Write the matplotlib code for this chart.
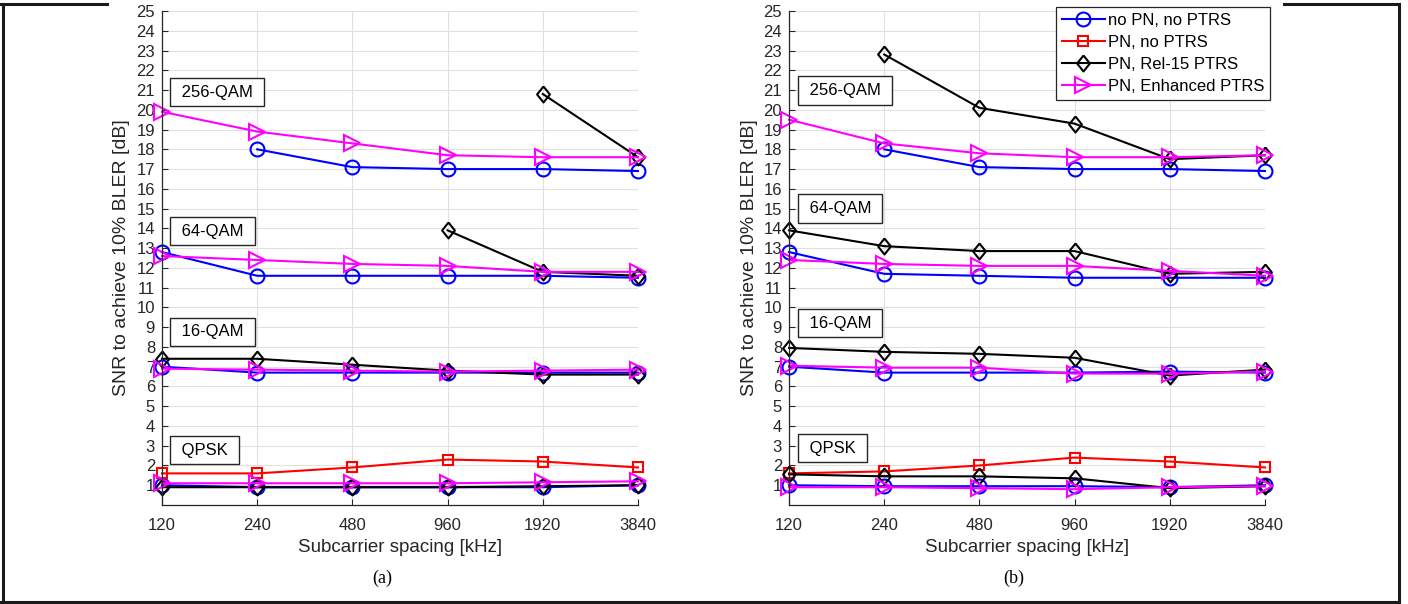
import numpy as np
import matplotlib.pyplot as plt
from matplotlib.lines import Line2D
from matplotlib.transforms import blended_transform_factory

plt.rcParams['font.family'] = ['Liberation Sans', 'DejaVu Sans']

nan = np.nan
scs = [120, 240, 480, 960, 1920, 3840]
mods = ['QPSK', '16-QAM', '64-QAM', '256-QAM']

# (a) one row per modulation: QPSK, 16-QAM, 64-QAM, 256-QAM
a_no_pn = [[1.0, 0.9, 0.9, 0.9, 0.9, 1.0],
           [7.0, 6.7, 6.7, 6.7, 6.7, 6.7],
           [12.8, 11.6, 11.6, 11.6, 11.6, 11.5],
           [nan, 18.0, 17.1, 17.0, 17.0, 16.9]]
a_pn_no_ptrs = [[1.6, 1.6, 1.9, 2.3, 2.2, 1.9], None, None, None]
a_rel15 = [[0.9, 0.9, 0.9, 0.9, 0.95, 1.0],
           [7.4, 7.4, 7.1, 6.8, 6.6, 6.6],
           [nan, nan, nan, 13.9, 11.8, 11.6],
           [nan, nan, nan, nan, 20.8, 17.6]]
a_enh = [[1.1, 1.1, 1.1, 1.1, 1.15, 1.2],
         [6.9, 6.85, 6.8, 6.75, 6.8, 6.85],
         [12.6, 12.4, 12.2, 12.1, 11.8, 11.8],
         [19.9, 18.9, 18.3, 17.7, 17.6, 17.6]]

# (b)
b_no_pn = [[1.0, 0.95, 0.95, 0.95, 0.9, 1.0],
           [7.0, 6.7, 6.7, 6.7, 6.75, 6.7],
           [12.8, 11.7, 11.6, 11.5, 11.5, 11.5],
           [nan, 18.0, 17.1, 17.0, 17.0, 16.9]]
b_pn_no_ptrs = [[1.6, 1.7, 2.0, 2.4, 2.2, 1.9], None, None, None]
b_rel15 = [[1.55, 1.45, 1.45, 1.35, 0.85, 0.95],
           [7.95, 7.75, 7.65, 7.45, 6.55, 6.85],
           [13.9, 13.1, 12.85, 12.85, 11.7, 11.8],
           [nan, 22.8, 20.1, 19.3, 17.5, 17.7]]
b_enh = [[0.9, 0.9, 0.85, 0.8, 0.9, 0.95],
         [7.05, 6.95, 6.95, 6.65, 6.65, 6.75],
         [12.4, 12.2, 12.1, 12.1, 11.85, 11.6],
         [19.5, 18.3, 17.8, 17.6, 17.6, 17.7]]

a_box_y = [2.78, 8.77, 13.85, 20.9]
b_box_y = [2.87, 9.2, 15.0, 20.98]

diamond = [(0, 1), (0.8, 0), (0, -1), (-0.8, 0), (0, 1)]
styles = [('no PN, no PTRS', 'blue', 'o', 10),
          ('PN, no PTRS', 'red', 's', 7.5),
          ('PN, Rel-15 PTRS', 'black', diamond, 11.5),
          ('PN, Enhanced PTRS', 'magenta', '>', 11)]

ink = '0.15'


def draw(ax, series, box_y, box_x):
    for (label, color, marker, ms), rows in zip(styles, series):
        first = True
        for row in rows:
            if row is None:
                continue
            ax.plot(scs, row, color=color, marker=marker, ms=ms, mfc='none',
                    mec=color, mew=1.5, lw=1.5, clip_on=False,
                    label=label if first else None)
            first = False
    ax.set_xscale('log', base=2)
    ax.set_xlim(120, 3840)
    ax.set_ylim(0, 25)
    ax.set_xticks(scs)
    ax.set_xticklabels([str(s) for s in scs])
    ax.minorticks_off()
    ax.set_yticks(range(1, 26))
    ax.grid(True, color='0.88', lw=0.8)
    ax.set_axisbelow(True)
    for s in ['top', 'right']:
        ax.spines[s].set_visible(False)
    for s in ['left', 'bottom']:
        ax.spines[s].set_color(ink)
        ax.spines[s].set_linewidth(0.9)
    ax.tick_params(direction='in', length=4, width=0.8, color=ink,
                   labelsize=12, labelcolor=ink)
    ax.tick_params(axis='x', pad=9)
    ax.tick_params(axis='y', pad=5)
    tr = blended_transform_factory(ax.transAxes, ax.transData)
    for m, y in zip(mods, box_y):
        ax.text(box_x, y, ' ' + m + ' ', transform=tr, fontsize=12, ha='left',
                va='center', color='black',
                bbox=dict(boxstyle='square,pad=0.4', fc='white', ec=ink, lw=1))


fig = plt.figure(figsize=(14.08, 6.04), dpi=100)
W, H = 1408, 604
axa = fig.add_axes([162 / W, 1 - 505 / H, 476 / W, 494 / H])
axb = fig.add_axes([789 / W, 1 - 505 / H, 476 / W, 494 / H])

draw(axa, [a_no_pn, a_pn_no_ptrs, a_rel15, a_enh], a_box_y, 0.031)
draw(axb, [b_no_pn, b_pn_no_ptrs, b_rel15, b_enh], b_box_y, 0.033)

leg = axb.legend(loc='upper right', bbox_to_anchor=(1.01, 1.008), fontsize=12,
                 numpoints=1, handlelength=2.6, handletextpad=0.15,
                 labelspacing=0.42, borderpad=0.35, borderaxespad=0,
                 fancybox=False, framealpha=1, edgecolor=ink)
leg.get_frame().set_linewidth(0.9)

for cx, tag in [(400, '(a)'), (1027, '(b)')]:
    fig.text(cx / W, 1 - 548 / H, 'Subcarrier spacing [kHz]', fontsize=13.5,
             ha='center', va='center', color=ink)
    fig.text((cx - 18 if tag == '(a)' else cx - 13) / W, 1 - 578 / H, tag,
             fontsize=13, family='Liberation Serif', ha='center', va='center')
for lx in [122, 749]:
    fig.text(lx / W, 1 - 258 / H, 'SNR to achieve 10% BLER [dB]', fontsize=14,
             rotation=90, ha='center', va='center', color=ink)

# surrounding frame
frame = dict(transform=fig.transFigure, color='0.1', lw=2.2)
fig.add_artist(Line2D([2.5 / W, 2.5 / W], [1 - 4 / H, 1 - 601.5 / H], **frame))
fig.add_artist(Line2D([0, 107 / W], [1 - 4.3 / H, 1 - 4.3 / H], **frame))
fig.add_artist(Line2D([1284 / W, 1399 / W], [1 - 4.3 / H, 1 - 4.3 / H], **frame))
fig.add_artist(Line2D([1398.5 / W, 1398.5 / W], [1 - 4 / H, 1 - 601.5 / H], **frame))
fig.add_artist(Line2D([0, 1399 / W], [1 - 601.5 / H, 1 - 601.5 / H], **frame))

fig.savefig('out.png', dpi=100)
